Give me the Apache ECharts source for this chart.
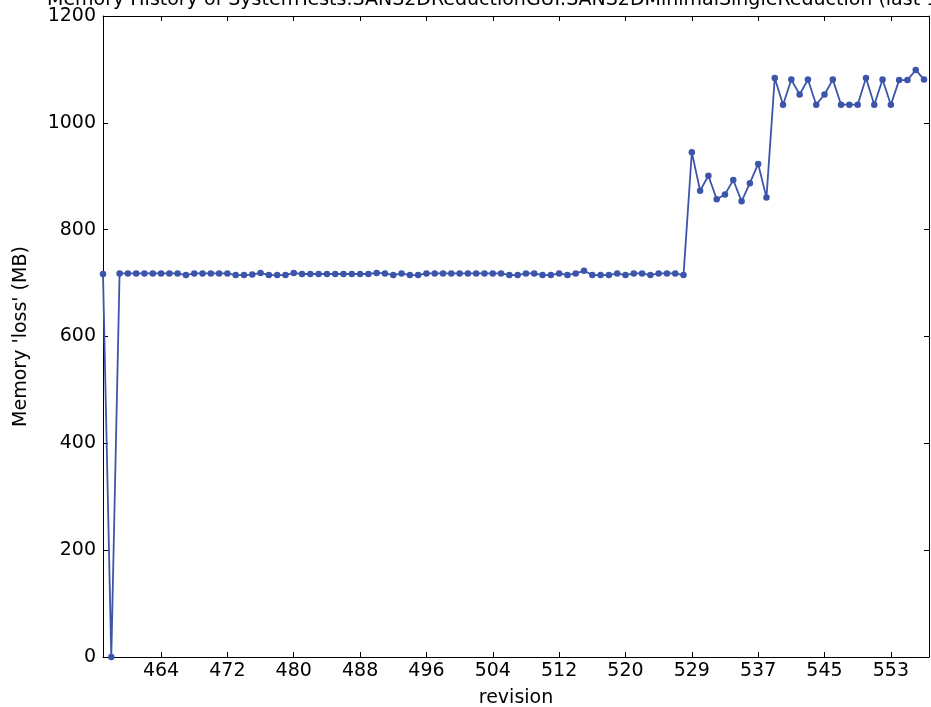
<!DOCTYPE html>
<html>
<head>
<meta charset="utf-8">
<script src="https://cdn.jsdelivr.net/npm/echarts@6/dist/echarts.min.js"></script>
<style>html,body{margin:0;padding:0;background:#fff;}#c{width:931px;height:707px;}</style>
</head>
<body>
<div id="c"></div>
<script>
// Memory 'loss' (MB) for the last 100 revisions (index 0..99)
var memoryValues = [
  717, 0, 718, 718, 718, 718, 718, 718, 718, 718,
  715, 718, 718, 718, 718, 718, 715, 715, 716, 719,
  715, 715, 715, 719, 717, 717, 717, 717, 717, 717,
  717, 717, 717, 719, 718, 715, 718, 715, 715, 718,
  718, 718, 718, 718, 718, 718, 718, 718, 718, 715,
  715, 718, 718, 715, 715, 718, 715, 718, 723, 715,
  715, 715, 718, 715, 718, 718, 715, 718, 718, 718,
  715, 945, 873, 901, 857, 866, 893, 853, 887, 923,
  860, 1084, 1034, 1081, 1053, 1081, 1034, 1053, 1081, 1034,
  1034, 1034, 1084, 1034, 1081, 1034, 1080, 1080, 1099, 1081
];
// x tick positions (point index) and their revision labels
var xTickIndex = [7, 15, 23, 31, 39, 47, 55, 63, 71, 79, 87, 95];
var xTickLabels = ['464', '472', '480', '488', '496', '504', '512', '520', '529', '537', '545', '553'];
var yTicks = [0, 200, 400, 600, 800, 1000, 1200];

var titleText = "Memory History of SystemTests.SANS2DReductionGUI.SANS2DMinimalSingleReduction (last 100 revisions)";

var seriesData = memoryValues.map(function (v, i) { return [i, v]; });
var labelMap = {};
xTickIndex.forEach(function (ix, k) { labelMap[ix] = xTickLabels[k]; });

var FONT = 'DejaVu Sans';
var LINE_COLOR = '#3c55ab';

var chart = echarts.init(document.getElementById('c'), null, {renderer: 'canvas'});
var xBase = {
  type: 'value', min: 0, max: 99.6,
  splitLine: {show: false},
  axisLine: {show: true, onZero: false, lineStyle: {color: '#000', width: 1}},
  axisTick: {show: true, inside: true, length: 5, customValues: xTickIndex, lineStyle: {color: '#000'}}
};
var yBase = {
  type: 'value', min: 0, max: 1200, interval: 200,
  splitLine: {show: false},
  axisLine: {show: true, onZero: false, lineStyle: {color: '#000', width: 1}},
  axisTick: {show: true, inside: true, length: 5, lineStyle: {color: '#000'}}
};
chart.setOption({
  animation: false,
  backgroundColor: '#fff',
  title: {
    text: titleText, left: 47, top: -9, padding: 0,
    textStyle: {fontFamily: FONT, fontSize: 19, fontWeight: 'normal', color: '#000'}
  },
  grid: {left: 103, right: 2, top: 16, bottom: 50, containLabel: false, outerBoundsMode: 'none'},
  xAxis: [
    Object.assign({}, xBase, {
      position: 'bottom',
      name: 'revision', nameLocation: 'middle', nameGap: 32,
      nameTextStyle: {fontFamily: FONT, fontSize: 19, color: '#000'},
      axisLabel: {
        show: true, customValues: xTickIndex, margin: 5,
        fontFamily: FONT, fontSize: 19, color: '#000',
        formatter: function (v) { return labelMap[Math.round(v)] || ''; }
      }
    }),
    Object.assign({}, xBase, {position: 'top', axisLabel: {show: false}})
  ],
  yAxis: [
    Object.assign({}, yBase, {
      position: 'left',
      name: "Memory 'loss' (MB)", nameLocation: 'middle', nameGap: 72, nameRotate: 90,
      nameTextStyle: {fontFamily: FONT, fontSize: 19, color: '#000'},
      axisLabel: {show: true, margin: 7, fontFamily: FONT, fontSize: 19, color: '#000',
        formatter: function (v) { return String(v); }}
    }),
    Object.assign({}, yBase, {position: 'right', axisLabel: {show: false}})
  ],
  series: [{
    type: 'line',
    xAxisIndex: 0, yAxisIndex: 0,
    data: seriesData,
    symbol: 'circle', symbolSize: 6.5,
    lineStyle: {color: LINE_COLOR, width: 1.8},
    itemStyle: {color: LINE_COLOR},
    clip: false
  }]
});
</script>
</body>
</html>
